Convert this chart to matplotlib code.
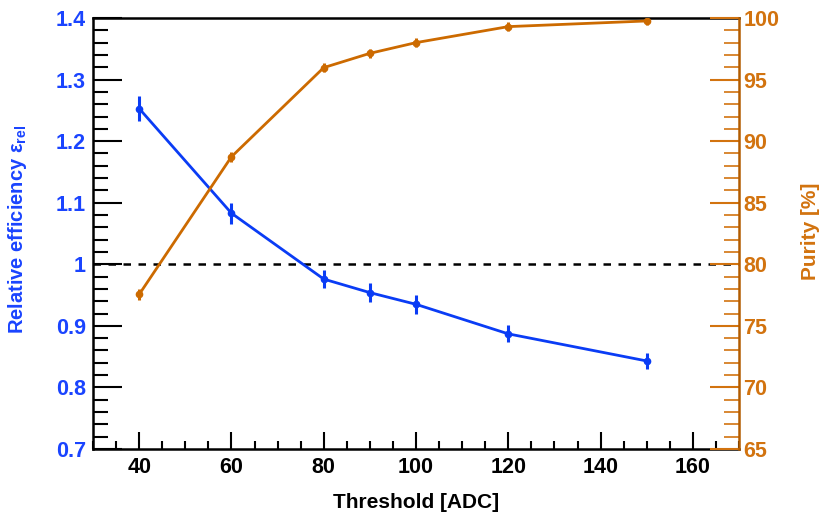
import matplotlib
matplotlib.use("Agg")
import matplotlib.pyplot as plt
from matplotlib.ticker import MultipleLocator

plt.rcParams['font.family'] = ['Liberation Sans', 'DejaVu Sans']
plt.rcParams['font.weight'] = 'bold'
plt.rcParams['mathtext.fontset'] = 'custom'
plt.rcParams['mathtext.rm'] = 'Liberation Sans:bold'
plt.rcParams['mathtext.it'] = 'Liberation Sans:bold'
plt.rcParams['mathtext.bf'] = 'Liberation Sans:bold'

threshold = [40, 60, 80, 90, 100, 120, 150]
rel_eff = [1.253, 1.083, 0.976, 0.954, 0.935, 0.887, 0.843]
rel_eff_err = [0.020, 0.017, 0.015, 0.015, 0.015, 0.014, 0.013]
purity = [77.55, 88.73, 95.97, 97.13, 98.0, 99.3, 99.76]
purity_err = [0.45, 0.4, 0.35, 0.35, 0.35, 0.35, 0.35]

BLUE = '#0a3cf5'
BLUE_TXT = '#1a44ff'
ORANGE = '#cc6a00'
ORANGE_TXT = '#d2730f'
ORANGE_AX = '#b35c00'

fig = plt.figure(figsize=(8.21, 5.14), dpi=100)
ax = fig.add_axes([93/821, 1-449/514, (739-93)/821, (449-18)/514])
ax2 = ax.twinx()

ax.set_xlim(30, 170)
ax.set_ylim(0.7, 1.4)
ax2.set_ylim(65, 100)

ax.axhline(1.0, color='black', lw=1.8, ls=(0, (3, 3)), zorder=1)

ax.errorbar(threshold, rel_eff, yerr=rel_eff_err, color=BLUE, lw=2.0,
            marker='o', ms=4.5, elinewidth=2.2, capsize=0, zorder=3)
ax2.errorbar(threshold, purity, yerr=purity_err, color=ORANGE, lw=2.0,
             marker='o', ms=4.5, elinewidth=2.2, capsize=0, zorder=3)

ax.xaxis.set_minor_locator(MultipleLocator(5))
ax.yaxis.set_minor_locator(MultipleLocator(0.02))
ax2.yaxis.set_major_locator(MultipleLocator(5))
ax2.yaxis.set_minor_locator(MultipleLocator(1))

ax.set_xticks([40, 60, 80, 100, 120, 140, 160])
ax.set_xticklabels(['40', '60', '80', '100', '120', '140', '160'])
ax.set_yticks([0.7, 0.8, 0.9, 1.0, 1.1, 1.2, 1.3, 1.4])
ax.set_yticklabels(['0.7', '0.8', '0.9', '1', '1.1', '1.2', '1.3', '1.4'])

TS = 15.5
ax.tick_params(axis='x', which='major', direction='in', length=12, width=1.5,
               labelsize=TS, pad=6, top=False, colors='black')
ax.tick_params(axis='x', which='minor', direction='in', length=6, width=1.5, top=False)
ax.tick_params(axis='y', which='major', direction='in', length=21, width=1.5,
               labelsize=TS, pad=5, labelcolor=BLUE_TXT, color='black')
ax.tick_params(axis='y', which='minor', direction='in', length=11, width=1.5, color='black')
ax2.tick_params(axis='y', which='major', direction='in', length=21, width=1.5,
                labelsize=TS, pad=3, labelcolor=ORANGE_TXT, color=ORANGE_TXT)
ax2.tick_params(axis='y', which='minor', direction='in', length=11, width=1.2, color=ORANGE_TXT)

for lab in ax.get_xticklabels() + ax.get_yticklabels() + ax2.get_yticklabels():
    lab.set_fontweight('bold')

for s in ['left', 'bottom', 'top']:
    ax.spines[s].set_linewidth(1.8)
    ax.spines[s].set_color('black')
ax.spines['right'].set_visible(False)
for s in ['left', 'bottom', 'top']:
    ax2.spines[s].set_visible(False)
ax2.spines['right'].set_color(ORANGE_AX)
ax2.spines['right'].set_linewidth(1.8)

fig.text(18/821, 1-229/514, r'Relative efficiency $\varepsilon_{\mathrm{rel}}$', rotation=90,
         ha='center', va='center', color=BLUE_TXT, fontsize=14.5, fontweight='bold')
fig.text(810/821, 1-231/514, 'Purity [%]', rotation=90, ha='center', va='center',
         color=ORANGE_TXT, fontsize=15, fontweight='bold')
fig.text(416/821, 1-502/514, 'Threshold [ADC]', ha='center', va='center',
         color='black', fontsize=15, fontweight='bold')

fig.savefig('out.png', dpi=100)
